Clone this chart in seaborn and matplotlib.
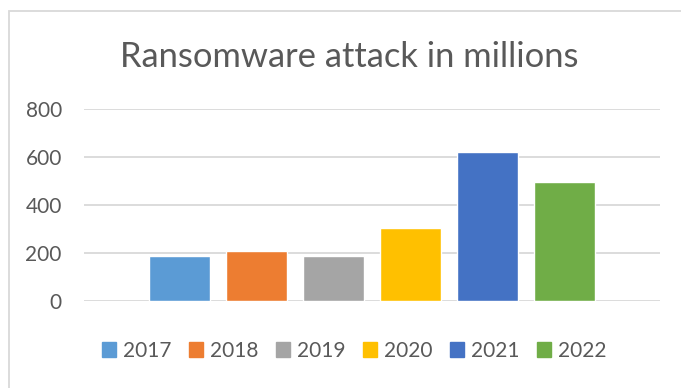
import matplotlib
matplotlib.use("Agg")
import matplotlib.pyplot as plt
import seaborn as sns
import pandas as pd
from matplotlib.patches import Rectangle

years = ["2017", "2018", "2019", "2020", "2021", "2022"]
attacks = [187, 208, 187, 305, 622, 496]
colors = ["#5B9BD5", "#ED7D31", "#A5A5A5", "#FFC000", "#4472C4", "#70AD47"]
title = "Ransomware attack in millions"
yticks = [0, 200, 400, 600, 800]

sns.set_theme(style="white")
plt.rcParams["font.family"] = ["Lato", "DejaVu Sans"]

df = pd.DataFrame({"year": years, "attacks": attacks})

W, H = 681, 388
fig = plt.figure(figsize=(W / 100, H / 100), dpi=100)
ax = fig.add_axes([84 / W, 1 - 300.7 / H, (660 - 84) / W, (300.7 - 109.3) / H])

sns.barplot(data=df, x="year", y="attacks", hue="year", palette=colors,
            width=0.79, dodge=False, legend=False, ax=ax, saturation=1)

ax.set_ylim(0, 800)
ax.set_xlim(-1.243, 5 + 1.243)
ax.set_yticks(yticks)
ax.set_xticks([])
ax.set_xlabel("")
ax.set_ylabel("")
ax.grid(axis="y", color="#D9D9D9", linewidth=1.3)
ax.set_axisbelow(True)
for s in ax.spines.values():
    s.set_visible(False)
ax.tick_params(axis="y", length=0, pad=16, labelsize=15, labelcolor="#595959")

fig.text(349 / W, 1 - 67 / H, title, ha="center", va="baseline",
         fontsize=24.8, color="#595959")

handles = [Rectangle((0, 0), 1, 1, color=c) for c in colors]
leg = fig.legend(handles, years, loc="center", bbox_to_anchor=(354 / W, 1 - 351 / H),
                 ncol=6, frameon=False, fontsize=15, handlelength=0.7, handleheight=0.7,
                 handletextpad=0.3, columnspacing=0.85, labelcolor="#595959")

fig.add_artist(Rectangle((9 / W, -0.1), 1.2, 1 - 11 / H + 0.1, transform=fig.transFigure,
                         fill=False, edgecolor="#D9D9D9", linewidth=1.3))

fig.savefig("out.png", dpi=100)
